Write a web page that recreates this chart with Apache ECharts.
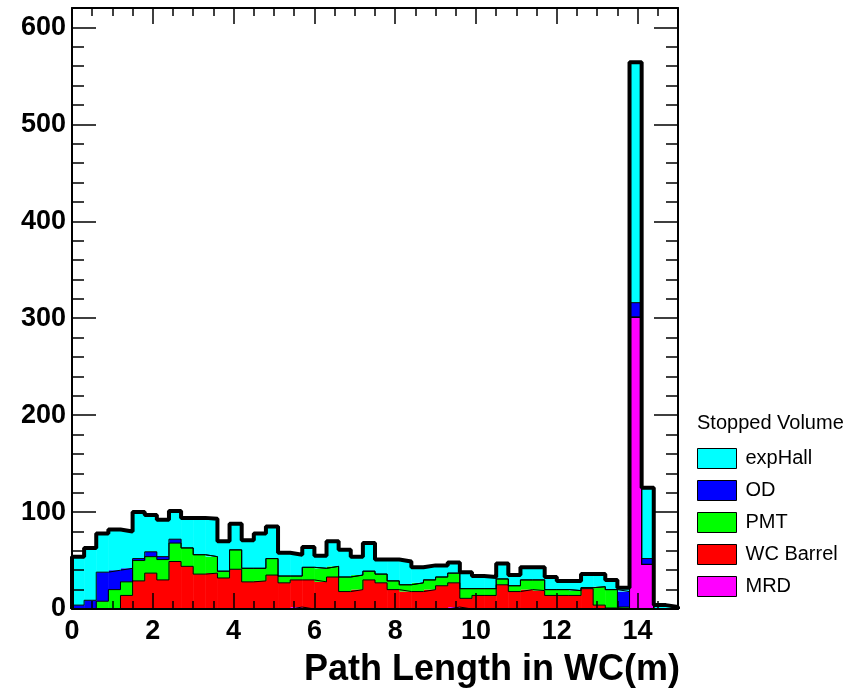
<!DOCTYPE html>
<html>
<head>
<meta charset="utf-8">
<script src="https://cdn.jsdelivr.net/npm/echarts@6/dist/echarts.min.js"></script>
<style>
  html, body { margin: 0; padding: 0; background: #fff; }
  #chart { width: 857px; height: 690px; }
</style>
</head>
<body>
<div id="chart"></div>
<script>
// 50 bins of 0.3 m from 0 to 15
var binWidth = 0.3
var xMax = 15

// stack order bottom -> top
var mrd = [0, 0, 0, 0, 0, 0, 0, 0, 0, 0,
  0, 0, 0, 0, 0, 0, 0, 0, 2, 0,
  0, 0, 0, 0, 0, 0, 0, 0, 0, 0,
  0, 2, 0, 0, 0, 0, 0, 0, 0, 0,
  0, 0, 0, 0, 0, 0, 301, 46, 0, 0]
var wcBarrel = [0, 0, 0, 0, 14, 29, 37, 30, 49, 44,
  36, 37, 32, 41, 28, 29, 35, 27, 28, 30,
  28, 33, 18, 20, 30, 27, 20, 18, 18, 20,
  24, 25, 11, 14, 14, 25, 18, 20, 19, 14,
  14, 14, 21, 4, 1, 0, 0, 0, 0, 0]
var pmt = [0, 0, 8, 20, 14, 21, 17, 21, 19, 19,
  20, 17, 7, 20, 14, 13, 17, 7, 4, 13,
  14, 11, 15, 15, 9, 9, 9, 7, 9, 10,
  9, 10, 10, 7, 7, 6, 6, 10, 11, 6,
  6, 5, 1, 19, 19, 2, 0, 0, 0, 0]
var od = [4, 9, 30, 20, 14, 2, 5, 3, 4, 0,
  0, 0, 0, 0, 0, 0, 0, 0, 0, 0,
  0, 0, 0, 0, 0, 0, 0, 0, 0, 0,
  0, 0, 0, 0, 0, 0, 0, 0, 0, 0,
  0, 0, 0, 0, 0, 16, 15, 6, 0, 0]
var expHall = [50, 54, 40, 42, 38, 48, 38, 38, 29, 31,
  38, 39, 31, 27, 29, 36, 33, 24, 22, 21,
  13, 26, 28, 19, 29, 15, 22, 24, 16, 15,
  12, 11, 17, 13, 12, 16, 11, 13, 13, 13,
  9, 10, 14, 13, 10, 4, 248, 73, 4, 2]

var layerNames = ['MRD', 'WC Barrel', 'PMT', 'OD', 'expHall']
var layerColors = ['#ff00ff', '#ff0000', '#00ff00', '#0000ff', '#00ffff']
var layers = [mrd, wcBarrel, pmt, od, expHall]

// running sums: cum[k][i] = top of layer k in bin i
var cum = []
layers.forEach(function (arr, k) {
  cum.push(arr.map(function (v, i) { return (k ? cum[k - 1][i] : 0) + v }))
})
var total = cum[cum.length - 1]

// left edge of every bin, plus closing point at the right edge
function toSteps (values) {
  var pts = values.map(function (v, i) { return [+(i * binWidth).toFixed(2), v] })
  pts.push([xMax, values[values.length - 1]])
  return pts
}

var font = 'Liberation Sans, Arial, Helvetica, sans-serif'
var black = '#000'

function axisBase (extra) {
  return Object.assign({
    type: 'value',
    z: 9,
    splitLine: { show: false },
    axisLine: { show: false, onZero: false },
    axisLabel: { show: false }
  }, extra)
}

function renderBin (params, api) {
  var p1 = api.coord([api.value(0), api.value(3)])
  var p2 = api.coord([api.value(1), api.value(2)])
  return {
    type: 'rect',
    shape: { x: p1[0], y: p1[1], width: p2[0] - p1[0] + 0.5, height: p2[1] - p1[1] },
    style: { fill: api.visual('color') }
  }
}

var chart = echarts.init(document.getElementById('chart'))

var series = []
layers.forEach(function (arr, k) {
  series.push({
    name: layerNames[k],
    type: 'custom',
    renderItem: renderBin,
    silent: true,
    z: 3,
    itemStyle: { color: layerColors[k] },
    encode: { x: [0, 1], y: [2, 3] },
    data: arr.map(function (v, i) {
      var lo = +(i * binWidth).toFixed(2)
      return [lo, +(lo + binWidth).toFixed(2), cum[k][i] - v, cum[k][i]]
    })
  })
})
// thin outline on top of every layer
cum.forEach(function (arr, k) {
  series.push({
    name: 'edge' + k,
    type: 'line',
    step: 'end',
    data: toSteps(arr),
    showSymbol: false,
    symbol: 'none',
    silent: true,
    z: 5,
    lineStyle: { color: black, width: 1 }
  })
})
series.push({
  name: 'total',
  type: 'line',
  step: 'end',
  data: [[0, 0]].concat(toSteps(total)).concat([[xMax, 0]]),
  showSymbol: false,
  symbol: 'none',
  silent: true,
  z: 8,
  lineStyle: { color: black, width: 4 }
})

chart.setOption({
  animation: false,
  backgroundColor: '#fff',
  title: [{
    text: 'Path Length in WC(m)',
    right: 177,
    top: 652,
    padding: 0,
    textStyle: { fontFamily: font, fontSize: 36, fontWeight: 'bold', color: black }
  }, {
    text: 'Stopped Volume',
    left: 697,
    top: 413,
    padding: 0,
    textStyle: { fontFamily: font, fontSize: 20, fontWeight: 'normal', color: black }
  }],
  legend: {
    data: ['expHall', 'OD', 'PMT', 'WC Barrel', 'MRD'],
    orient: 'vertical',
    left: 697,
    top: 448,
    padding: 0,
    icon: 'rect',
    itemWidth: 39,
    itemHeight: 20,
    itemGap: 11,
    selectedMode: false,
    itemStyle: { borderColor: black, borderWidth: 1 },
    textStyle: { fontFamily: font, fontSize: 20, color: black, padding: [0, 0, 0, 4] }
  },
  grid: { left: 72, right: 179, top: 8, bottom: 81, outerBoundsMode: 'none' },
  xAxis: [
    axisBase({
      min: 0, max: xMax, interval: 2, position: 'bottom',
      axisLine: { show: true, onZero: false, lineStyle: { color: black, width: 2 } },
      axisTick: { inside: true, length: 16, lineStyle: { color: black, width: 1.5 } },
      axisLabel: {
        show: true, margin: 9, showMaxLabel: false,
        fontFamily: font, fontSize: 27, fontWeight: 'bold', color: black,
        formatter: function (v) { return v > 14 ? '' : String(v) }
      }
    }),
    axisBase({
      min: 0, max: xMax, interval: 0.5, position: 'bottom',
      axisTick: { inside: true, length: 8, lineStyle: { color: black, width: 1.5 } }
    }),
    axisBase({
      min: 0, max: xMax, interval: 2, position: 'top',
      axisLine: { show: true, onZero: false, lineStyle: { color: black, width: 2 } },
      axisTick: { inside: true, length: 16, lineStyle: { color: black, width: 1.5 } }
    }),
    axisBase({
      min: 0, max: xMax, interval: 0.5, position: 'top',
      axisTick: { inside: true, length: 8, lineStyle: { color: black, width: 1.5 } }
    })
  ],
  yAxis: [
    axisBase({
      min: 0, max: 620, interval: 100, position: 'left',
      axisLine: { show: true, onZero: false, lineStyle: { color: black, width: 2 } },
      axisTick: { inside: true, length: 24, lineStyle: { color: black, width: 1.5 } },
      axisLabel: {
        show: true, margin: 6, showMaxLabel: false,
        fontFamily: font, fontSize: 27, fontWeight: 'bold', color: black
      }
    }),
    axisBase({
      min: 0, max: 620, interval: 20, position: 'left',
      axisTick: { inside: true, length: 12, lineStyle: { color: black, width: 1.5 } }
    }),
    axisBase({
      min: 0, max: 620, interval: 100, position: 'right',
      axisLine: { show: true, onZero: false, lineStyle: { color: black, width: 2 } },
      axisTick: { inside: true, length: 24, lineStyle: { color: black, width: 1.5 } }
    }),
    axisBase({
      min: 0, max: 620, interval: 20, position: 'right',
      axisTick: { inside: true, length: 12, lineStyle: { color: black, width: 1.5 } }
    })
  ],
  series: series
})
</script>
</body>
</html>
